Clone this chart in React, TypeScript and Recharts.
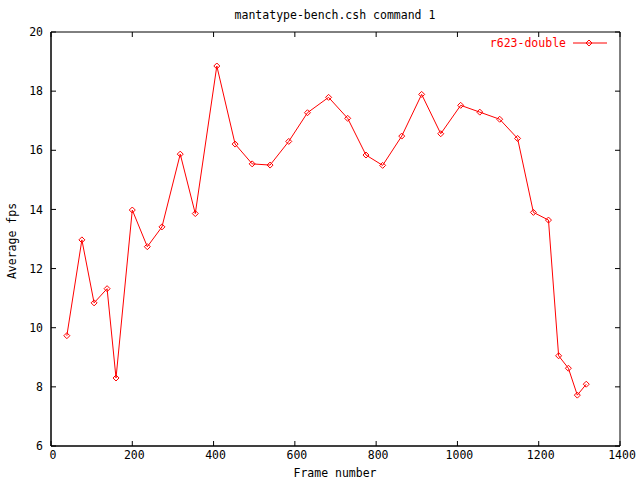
import React from 'react';
import { LineChart, Line, XAxis, YAxis } from 'recharts';

// frame number of each sample
const frames = [
  39, 76, 106, 138, 160, 200, 237, 273, 318, 355, 408, 453, 495, 539, 585, 631, 683,
  730, 775, 816, 863, 912, 959, 1008, 1055, 1104, 1148, 1187, 1224, 1249, 1273, 1295, 1317,
];

// average fps, r623-double
const fps = [
  9.73, 12.97, 10.84, 11.32, 8.3, 13.98, 12.74, 13.41, 15.87, 13.86, 18.85, 16.21, 15.54,
  15.5, 16.3, 17.27, 17.79, 17.08, 15.84, 15.49, 16.48, 17.89, 16.56, 17.52, 17.29, 17.05,
  16.4, 13.9, 13.64, 9.05, 8.63, 7.72, 8.09,
];

const xTicks = [0, 200, 400, 600, 800, 1000, 1200, 1400];
const yTicks = [6, 8, 10, 12, 14, 16, 18, 20];

const data = frames.map((f, i) => ({ frame: f, fps: fps[i] }));

const FONT = '"DejaVu Sans Mono", monospace';
const RED = '#ff0000';
const tickStyle = { fill: '#000', fontSize: 11.5, fontFamily: FONT };
const blank = () => '';

const Diamond = (props: any) => {
  const { cx, cy } = props;
  if (cx == null || cy == null) return null;
  return (
    <path
      d={`M${cx},${cy - 3}L${cx + 3},${cy}L${cx},${cy + 3}L${cx - 3},${cy}Z`}
      stroke={RED}
      strokeWidth={1}
      fill="none"
    />
  );
};

const App: React.FC = () => {
  return (
    <div style={{ position: 'absolute', left: 0, top: 0, width: 640, height: 480, background: '#fff' }}>
      <LineChart
        width={640}
        height={480}
        data={data}
        margin={{ top: 32, right: 20, bottom: 14, left: 11 }}
      >
        <XAxis
          xAxisId="bottom"
          dataKey="frame"
          type="number"
          domain={[0, 1400]}
          ticks={xTicks}
          orientation="bottom"
          height={20}
          stroke="#000"
          tickLine={false}
          tickSize={0}
          tickMargin={5}
          tick={tickStyle}
          dx={2}
          interval={0}
        />
        {/* inward tick marks on all four sides, gnuplot style border */}
        <XAxis
          xAxisId="tbottom"
          dataKey="frame"
          type="number"
          domain={[0, 1400]}
          ticks={xTicks}
          orientation="bottom"
          mirror
          stroke="#000"
          tickSize={5}
          tickFormatter={blank}
          interval={0}
        />
        <XAxis
          xAxisId="ttop"
          dataKey="frame"
          type="number"
          domain={[0, 1400]}
          ticks={xTicks}
          orientation="top"
          mirror
          stroke="#000"
          tickSize={5}
          tickFormatter={blank}
          interval={0}
        />
        <YAxis
          yAxisId="left"
          type="number"
          domain={[6, 20]}
          ticks={yTicks}
          orientation="left"
          width={40}
          stroke="#000"
          tickLine={false}
          tickSize={0}
          tickMargin={8}
          tick={tickStyle}
          interval={0}
        />
        <YAxis
          yAxisId="tleft"
          type="number"
          domain={[6, 20]}
          ticks={yTicks}
          orientation="left"
          mirror
          stroke="#000"
          tickSize={5}
          tickFormatter={blank}
          interval={0}
        />
        <YAxis
          yAxisId="tright"
          type="number"
          domain={[6, 20]}
          ticks={yTicks}
          orientation="right"
          mirror
          stroke="#000"
          tickSize={5}
          tickFormatter={blank}
          interval={0}
        />
        {/* hidden series so the tick-only axes get a scale */}
        <Line
          xAxisId="tbottom"
          yAxisId="tleft"
          dataKey="fps"
          stroke="none"
          dot={false}
          activeDot={false}
          legendType="none"
          isAnimationActive={false}
        />
        <Line
          xAxisId="ttop"
          yAxisId="tright"
          dataKey="fps"
          stroke="none"
          dot={false}
          activeDot={false}
          legendType="none"
          isAnimationActive={false}
        />
        <Line
          xAxisId="bottom"
          yAxisId="left"
          dataKey="fps"
          name="r623-double"
          stroke={RED}
          strokeWidth={1}
          dot={<Diamond />}
          activeDot={false}
          isAnimationActive={false}
        />
      </LineChart>

      <div
        style={{
          position: 'absolute', left: 0, width: 670, top: 7, textAlign: 'center',
          fontFamily: FONT, fontSize: 11.5, color: '#000', lineHeight: '16px',
        }}
      >
        mantatype-bench.csh command 1
      </div>

      <div
        style={{
          position: 'absolute', left: 0, width: 670, top: 465, textAlign: 'center',
          fontFamily: FONT, fontSize: 11.5, color: '#000', lineHeight: '16px',
        }}
      >
        Frame number
      </div>

      <div style={{ position: 'absolute', left: 12, top: 241, width: 0, height: 0 }}>
        <div
          style={{
            position: 'absolute', left: -60, top: -8, width: 120, textAlign: 'center',
            transform: 'rotate(-90deg)', fontFamily: FONT, fontSize: 11.5, color: '#000',
            lineHeight: '16px', whiteSpace: 'nowrap',
          }}
        >
          Average fps
        </div>
      </div>

      <div
        style={{
          position: 'absolute', right: 640 - 566, top: 35, textAlign: 'right',
          fontFamily: FONT, fontSize: 11.5, color: RED, lineHeight: '16px', whiteSpace: 'nowrap',
        }}
      >
        r623-double
      </div>
      <svg style={{ position: 'absolute', left: 570, top: 36 }} width={40} height={14}>
        <line x1={3} y1={7} x2={37} y2={7} stroke={RED} strokeWidth={1} />
        <path d="M19,4L22,7L19,10L16,7Z" stroke={RED} fill="none" />
      </svg>
    </div>
  );
};

export default App;
